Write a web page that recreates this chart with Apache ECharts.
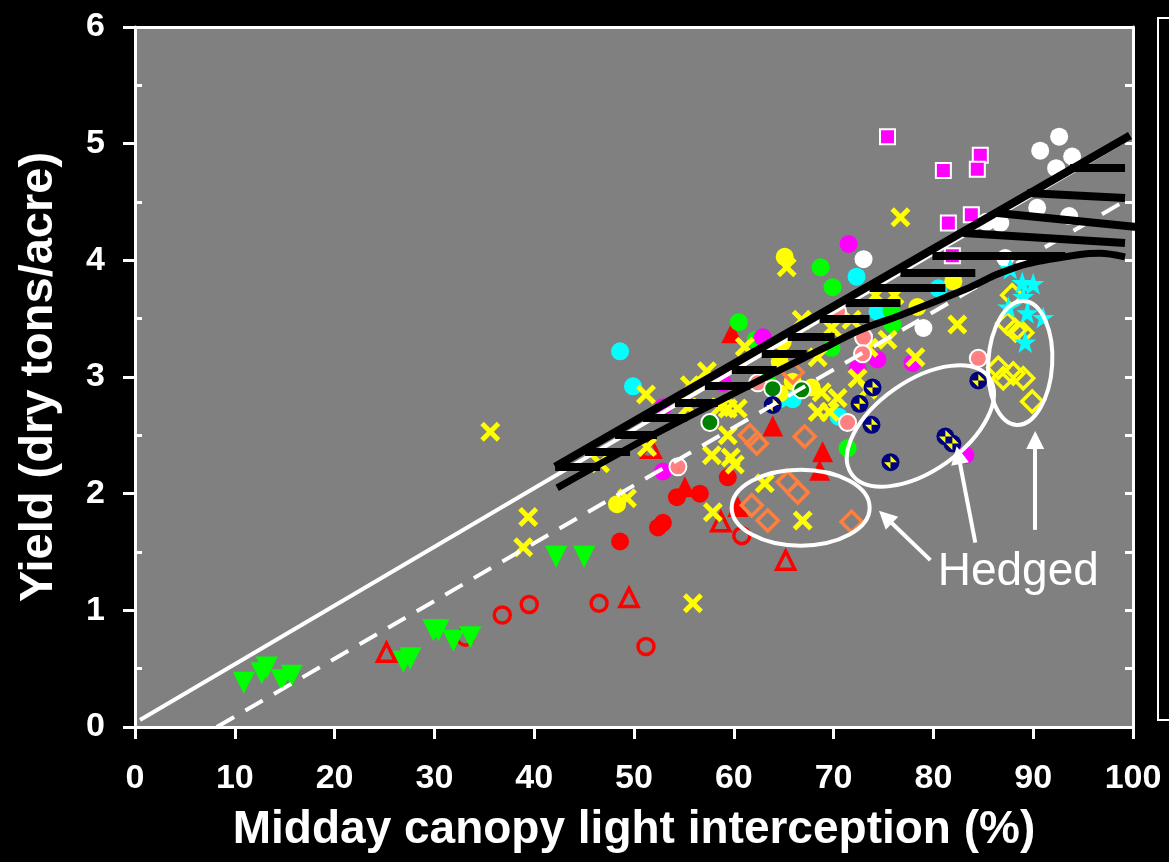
<!DOCTYPE html>
<html><head><meta charset="utf-8">
<script src="https://cdn.jsdelivr.net/npm/echarts@6/dist/echarts.min.js"></script>
<style>html,body{margin:0;padding:0;background:#000;}#c{width:1169px;height:862px;}</style>
</head><body><div id="c"></div>
<script>
// ---- axis ticks ----
const xTickValues = [0,10,20,30,40,50,60,70,80,90,100];
const yTickValues = [0,1,2,3,4,5,6];
const yHalfTicks = [0.5,1.5,2.5,3.5,4.5,5.5];

// ---- series data [x %, yield] ----
const greenTriangles = [[10.9,0.38],[12.7,0.46],[13.2,0.51],[14.7,0.40],[15.7,0.44],[26.9,0.56],[27.6,0.59],[29.9,0.83],[30.4,0.83],[31.9,0.74],[33.6,0.77],[42.2,1.46],[45.0,1.46]];
const redOpenCircles = [[33.1,0.77],[36.8,0.96],[39.5,1.05],[46.5,1.06],[51.2,0.69],[60.8,1.64]];
const redOpenTriangles = [[25.2,0.64],[49.5,1.11],[51.7,2.39],[58.7,1.76],[65.2,1.43]];
const redFilledCircles = [[48.6,1.59],[52.4,1.71],[52.9,1.75],[54.3,1.97],[56.6,2.00],[59.4,2.14]];
const redFilledTriangles = [[59.8,3.38],[63.9,2.58],[68.9,2.36],[68.6,2.20],[60.4,1.89],[55.1,2.06]];
const yellowCrosses = [[38.9,1.54],[39.4,1.80],[35.6,2.53],[49.3,1.96],[51.2,2.85],[46.6,2.26],[55.9,1.06],[57.9,1.84],[59.4,2.50],[57.8,2.33],[59.7,2.31],[60.1,2.25],[55.6,2.93],[57.3,3.05],[55.4,2.74],[59.4,2.73],[60.4,2.73],[61.1,3.26],[63.1,2.09],[66.9,1.77],[68.4,2.70],[69.6,2.70],[68.8,2.87],[70.4,2.82],[72.4,2.99],[73.4,2.89],[78.2,3.17],[66.8,3.49],[69.8,3.42],[71.8,3.49],[68.4,3.17],[75.4,3.32],[73.5,3.25],[65.3,3.94],[76.7,4.37],[82.4,3.45],[74.2,3.70],[76.1,3.70],[58.6,2.74],[51.3,2.40]];
const cyanCircles = [[48.6,3.22],[49.9,2.92],[72.3,3.86],[74.4,3.56],[80.5,3.76],[64.6,2.81],[65.9,2.81],[70.5,2.66]];
const limeCircles = [[68.7,3.94],[69.9,3.77],[60.5,3.47],[62.2,3.32],[69.8,3.25],[71.4,2.39],[75.8,3.57],[75.9,3.45],[63.3,3.00]];
const magentaCircles = [[71.5,4.14],[74.4,3.15],[77.9,3.12],[72.4,3.07],[62.9,3.34],[52.9,2.74],[58.9,2.95],[52.9,2.19],[83.2,2.33]];
const yellowCircles = [[48.3,1.91],[65.1,4.03],[64.9,3.30],[64.6,3.13],[65.9,2.96],[67.8,2.91],[82.0,3.82],[78.4,3.60],[64.6,2.86]];
const whiteCircles = [[90.7,4.94],[92.6,5.06],[93.9,4.89],[92.3,4.79],[90.4,4.45],[93.6,4.38],[85.3,4.33],[86.7,4.32],[87.2,4.02],[73.0,4.01],[79.0,3.42]];
const salmonCircles = [[54.4,2.23],[62.4,2.95],[71.4,2.61],[70.4,3.56],[73.0,3.34],[72.9,3.20],[84.5,3.16]];
const darkGreenCircles = [[57.6,2.61],[63.9,2.90],[66.8,2.89]];
const navyCircles = [[63.9,2.76],[72.6,2.77],[73.9,2.91],[73.8,2.59],[75.7,2.27],[81.2,2.49],[81.9,2.43],[84.5,2.97]];
const orangeDiamonds = [[61.6,2.50],[62.3,2.43],[67.1,2.49],[65.9,3.04],[61.8,1.90],[63.4,1.77],[65.4,2.10],[66.4,2.01],[71.8,1.76]];
const yellowDiamonds = [[87.9,3.70],[87.4,3.46],[88.2,3.40],[88.9,3.38],[86.5,3.08],[87.0,2.99],[88.0,3.03],[89.0,2.99],[89.9,2.79]];
const cyanStars = [[88.9,3.81],[90.0,3.80],[87.7,3.93],[89.0,3.69],[87.5,3.60],[89.4,3.55],[91.0,3.51],[89.2,3.30]];
const magentaSquares = [[75.4,5.06],[81.0,4.77],[84.7,4.90],[84.4,4.78],[81.5,4.32],[83.8,4.39],[81.9,4.04]];

// ---- reference lines ----
const whiteSolid = [[0.5,0.06],[99.7,5.05]];
const whiteDashed = [[8.2,0.0],[99.2,4.51]];
const bandUpper = [[42.1,2.23],[99.7,5.07]];
const bandLower = [[42.3,2.05],[51.6,2.49],[60.0,2.86],[68.6,3.23],[72.6,3.40],[76.7,3.53],[83.7,3.77],[86.4,3.88],[89.4,3.97],[94.7,4.05],[96.7,4.06],[99.2,4.03]];
// hatch segments [x1, y1, x2, y2]
const hatchSegments = [
 [42.1,2.229,46.6,2.229],[45.1,2.357,49.6,2.357],[48.1,2.502,52.3,2.502],[50.9,2.648,55.3,2.648],
 [54.1,2.777,58.4,2.777],[57.1,2.922,61.6,2.922],[59.8,3.059,64.3,3.059],[62.8,3.197,67.3,3.197],
 [65.4,3.343,70.1,3.343],[68.6,3.497,73.6,3.497],[71.2,3.634,76.7,3.634],[73.6,3.763,81.2,3.763],
 [76.7,3.891,84.2,3.891],[79.9,4.037,93.2,4.037],[83.0,4.234,99.2,4.148],[86.4,4.406,100.4,4.286],
 [89.4,4.577,99.2,4.534],[93.7,4.791,99.2,4.791]
];
// ---- annotations ----
const arrowLines = [[[79.7,1.43],[75.2,1.80]],[[84.2,1.58],[82.5,2.33]],[[90.2,1.69],[90.2,2.46]]];
const ellipseCenters = [[66.7,1.88],[78.7,2.58],[88.7,3.12]];
const hedgedLabel = {text:'Hedged', at:[88.5,1.33]};

const FONT = '"Liberation Sans", Arial, sans-serif';
const XPATH = 'path://M0 3.5L3.5 0L10 6.5L16.5 0L20 3.5L13.5 10L20 16.5L16.5 20L10 13.5L3.5 20L0 16.5L6.5 10Z';
const STAR = 'path://M10 0L12.35 6.9L19.5 6.9L13.8 11.2L15.9 18.1L10 14L4.1 18.1L6.2 11.2L0.5 6.9L7.65 6.9Z';
const WEDGES = 'path://M10 10L10 2L18 10ZM10 10L2 10L10 18Z';

function sc(name, data, symbol, size, itemStyle, extra) {
  return Object.assign({
    name, type:'scatter', data, symbol, symbolSize:size, itemStyle:Object.assign({opacity:1}, itemStyle),
    z:2, silent:true, emphasis:{disabled:true}
  }, extra || {});
}
const openStyle = c => ({color:'rgba(0,0,0,0)', borderColor:c, borderWidth:3.5});

const series = [
  sc('redOpenCircles', redOpenCircles, 'circle', 16, openStyle('#FF0000')),
  sc('greenTriangles', greenTriangles, 'triangle', 22, {color:'#00FF00'}, {symbolRotate:180}),
  sc('redOpenTriangles', redOpenTriangles, 'triangle', 18, openStyle('#FF0000')),
  sc('redFilledCircles', redFilledCircles, 'circle', 18, {color:'#FF0000'}),
  sc('redFilledTriangles', redFilledTriangles, 'triangle', 21, {color:'#FF0000'}),
  sc('cyanCircles', cyanCircles, 'circle', 18, {color:'#00FFFF'}),
  sc('limeCircles', limeCircles, 'circle', 18, {color:'#00FF00'}),
  sc('magentaCircles', magentaCircles, 'circle', 18, {color:'#FF00FF'}),
  sc('yellowCrosses', yellowCrosses, XPATH, 20, {color:'#FFFF00'}),
  sc('yellowCircles', yellowCircles, 'circle', 18, {color:'#FFFF00'}),
  sc('whiteCircles', whiteCircles, 'circle', 18, {color:'#FFFFFF'}),
  sc('salmonCircles', salmonCircles, 'circle', 17, {color:'#FF8080', borderColor:'#FFFFFF', borderWidth:2}),
  sc('darkGreenCircles', darkGreenCircles, 'circle', 17, {color:'#008000', borderColor:'#FFFFFF', borderWidth:2}),
  sc('navyCircles', navyCircles, 'circle', 18, {color:'#000080'}),
  sc('navyWedges', navyCircles, WEDGES, 13, {color:'#FFFF00'}),
  sc('orangeDiamonds', orangeDiamonds, 'diamond', 21, openStyle('#FF7F3F')),
  sc('yellowDiamonds', yellowDiamonds, 'diamond', 21, openStyle('#FFFF00')),
  sc('cyanStars', cyanStars, STAR, 22, {color:'#00FFFF'}),
  sc('magentaSquares', magentaSquares, 'rect', 15, {color:'#FF00FF', borderColor:'#FFFFFF', borderWidth:2}),
  {name:'whiteSolid', type:'line', data:whiteSolid, symbol:'none', z:3, silent:true,
   lineStyle:{color:'#FFFFFF', width:4}},
  {name:'whiteDashed', type:'line', data:whiteDashed, symbol:'none', z:3, silent:true,
   lineStyle:{color:'#FFFFFF', width:4, type:[20,13]}},
  {name:'bandUpper', type:'line', data:bandUpper, symbol:'none', z:4, silent:true,
   lineStyle:{color:'#000000', width:8}},
  {name:'bandLower', type:'line', data:bandLower, symbol:'none', smooth:0.3, z:4, silent:true,
   lineStyle:{color:'#000000', width:7}},
  {name:'hatch', type:'lines', coordinateSystem:'cartesian2d', z:4, silent:true,
   data:hatchSegments.map(s => ({coords:[[s[0],s[1]],[s[2],s[3]]]})),
   lineStyle:{color:'#000000', width:8, opacity:1}},
  {name:'arrows', type:'lines', coordinateSystem:'cartesian2d', z:5, silent:true,
   symbol:['none','triangle'], symbolSize:18,
   data:arrowLines.map(a => ({coords:a})),
   lineStyle:{color:'#FFFFFF', width:4, opacity:1}, itemStyle:{color:'#FFFFFF'}}
];

const labelStyle = {color:'#FFFFFF', fontSize:34, fontWeight:'bold', fontFamily:FONT};
const nameStyle = {color:'#FFFFFF', fontSize:46, fontWeight:'bold', fontFamily:FONT};
const axLine = {show:true, onZero:false, lineStyle:{color:'#FFFFFF', width:3}};

const chart = echarts.init(document.getElementById('c'));
chart.setOption({
  backgroundColor:'#000000',
  animation:false,
  grid:{left:135, right:36, top:27, bottom:135, show:true, backgroundColor:'#808080', borderWidth:0, outerBoundsMode:'none'},
  xAxis:[
    {type:'value', min:xTickValues[0], max:xTickValues[xTickValues.length-1], interval:10, position:'bottom',
     axisLine:axLine, axisTick:{show:true, inside:false, length:12, lineStyle:{color:'#FFFFFF', width:3}},
     axisLabel:Object.assign({margin:35}, labelStyle), splitLine:{show:false},
     name:'Midday canopy light interception (%)', nameLocation:'middle', nameGap:80, nameTextStyle:nameStyle},
    {type:'value', min:0, max:100, position:'top', axisLine:axLine, axisTick:{show:false}, axisLabel:{show:false}, splitLine:{show:false}}
  ],
  yAxis:[
    {type:'value', min:yTickValues[0], max:yTickValues[yTickValues.length-1], interval:1, position:'left',
     axisLine:axLine, axisTick:{show:true, inside:false, length:12, lineStyle:{color:'#FFFFFF', width:3}},
     axisLabel:Object.assign({margin:30}, labelStyle), splitLine:{show:false},
     name:'Yield (dry tons/acre)', nameLocation:'middle', nameGap:72, nameTextStyle:Object.assign({}, nameStyle, {fontSize:47})},
    {type:'value', min:0, max:6, interval:0.5, position:'left', axisLine:{show:false},
     axisTick:{show:true, inside:true, length:7, customValues:yHalfTicks, lineStyle:{color:'#FFFFFF', width:3}},
     axisLabel:{show:false}, splitLine:{show:false}},
    {type:'value', min:0, max:6, interval:0.5, position:'right', axisLine:axLine,
     axisTick:{show:true, inside:true, length:8, lineStyle:{color:'#FFFFFF', width:3}},
     axisLabel:{show:false}, splitLine:{show:false}}
  ],
  series
});

const toPx = p => chart.convertToPixel({gridIndex:0}, p);
const ellSpec = [{rx:69, ry:38, rot:0},{rx:84, ry:45, rot:35*Math.PI/180},{rx:32, ry:62, rot:-0.06}];
const graphics = ellipseCenters.map((c, i) => {
  const p = toPx(c);
  return {type:'ellipse', x:p[0], y:p[1], rotation:ellSpec[i].rot, z:10, silent:true,
    shape:{cx:0, cy:0, rx:ellSpec[i].rx, ry:ellSpec[i].ry},
    style:{fill:null, stroke:'#FFFFFF', lineWidth:4}};
});
const hp = toPx(hedgedLabel.at);
graphics.push({type:'text', x:hp[0], y:hp[1], z:10, silent:true,
  style:{text:hedgedLabel.text, fill:'#FFFFFF', font:'46px ' + FONT, textAlign:'center', textVerticalAlign:'middle'}});
graphics.push({type:'rect', z:10, silent:true, shape:{x:1158, y:18, width:40, height:702},
  style:{fill:null, stroke:'#FFFFFF', lineWidth:2}});
chart.setOption({graphic:graphics});
</script></body></html>
